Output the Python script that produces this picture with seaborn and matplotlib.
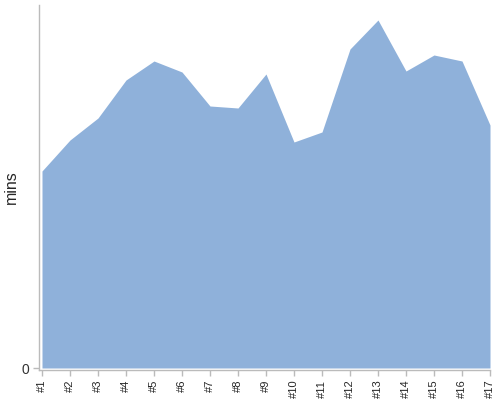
import pandas as pd
import matplotlib
matplotlib.use("Agg")
import matplotlib.pyplot as plt
import seaborn as sns

# values
labels = ["#" + str(i) for i in range(1, 18)]
mins = [19.7, 22.8, 25.0, 28.8, 30.7, 29.6, 26.2, 26.0, 29.4, 22.6,
        23.6, 31.9, 34.8, 29.7, 31.3, 30.7, 24.3]

data = pd.DataFrame({"pos": range(len(labels)), "mins": mins})

sns.set_style("white")
plt.rcParams["font.family"] = ["Liberation Sans", "DejaVu Sans"]

fig = plt.figure(figsize=(5, 4), dpi=100)
ax = fig.add_axes([39 / 500, 30 / 400, 451 / 500, 365 / 400])

fill_color = "#8fb1da"
sns.lineplot(data=data, x="pos", y="mins", color=fill_color, linewidth=0, ax=ax)
ax.fill_between(data["pos"], 0, data["mins"], color=fill_color, linewidth=0)

ax.set_xlim(-0.107, 16)
ax.set_ylim(-0.2, 36.3)
ax.set_xticks(data["pos"])
ax.set_xticklabels(labels, rotation=90, fontsize=8)
ax.set_yticks([0])
ax.set_yticklabels(["0"], fontsize=10, color="#333333")
ax.set_xlabel("")
ax.set_ylabel("mins", fontsize=11.5)
ax.yaxis.set_label_coords(-0.044, 0.5)

for side in ["top", "right"]:
    ax.spines[side].set_visible(False)
for side in ["left", "bottom"]:
    ax.spines[side].set_color("#bbbbbb")
    ax.spines[side].set_linewidth(1)
ax.tick_params(axis="both", length=4, color="#bbbbbb", width=1, pad=3, bottom=True, left=True)

fig.savefig("out.png", dpi=100)
